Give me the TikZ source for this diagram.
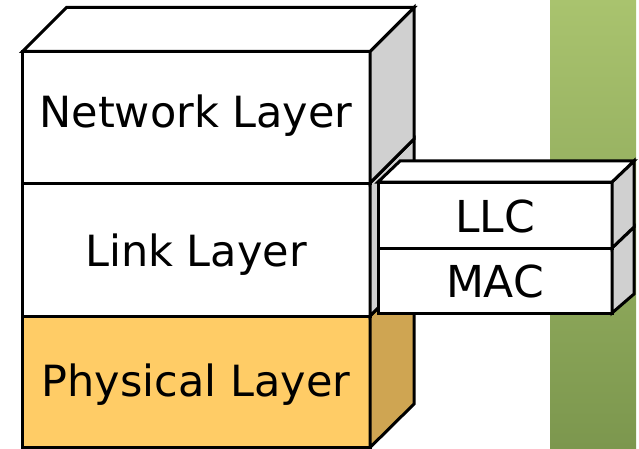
\documentclass[tikz,border=0pt]{standalone}
\usepackage{fontspec}
\setmainfont{DejaVu Sans}
\definecolor{physfront}{HTML}{FFCC66}
\definecolor{physside}{HTML}{CFA552}
\definecolor{greyside}{HTML}{D0D0D0}
\definecolor{greentop}{HTML}{A9C36E}
\definecolor{greenbot}{HTML}{7C974E}
\tikzset{
  face/.style={draw=black, line width=3pt, line join=miter, miter limit=4},
  frontw/.style={face, fill=white},
  sidegrey/.style={face, fill=greyside},
  lbl/.style={inner sep=0pt, anchor=base, font=\fontsize{43}{48}\selectfont},
  slbl/.style={inner sep=0pt, anchor=base, font=\fontsize{44}{48}\selectfont}
}
\begin{document}
\begin{tikzpicture}[x=1pt,y=-1pt]
\useasboundingbox (0,0) rectangle (639,449);
% green bar
\shade[top color=greentop, bottom color=greenbot] (550,0) rectangle (636,448);
% physical layer
\filldraw[face, fill=physfront] (22.5,316) rectangle (370,447.5);
\filldraw[face, fill=physside] (370,316) -- (414,272) -- (414,404) -- (370,447.5) -- cycle;
% link layer
\filldraw[frontw] (22.5,183) rectangle (370,316);
\filldraw[sidegrey] (370,183) -- (414,139) -- (414,272) -- (370,316) -- cycle;
% network layer
\filldraw[frontw] (22.5,51.5) rectangle (370,183);
\filldraw[sidegrey] (370,51.5) -- (414,7.5) -- (414,139) -- (370,183) -- cycle;
\filldraw[frontw] (22.5,51.5) -- (66.5,7.5) -- (414,7.5) -- (370,51.5) -- cycle;
% MAC
\filldraw[frontw] (378,248) rectangle (612,313);
\filldraw[sidegrey] (612,248) -- (634,227) -- (634,294) -- (612,313) -- cycle;
% LLC
\filldraw[frontw] (378,182) rectangle (612,248);
\filldraw[sidegrey] (612,182) -- (634,161) -- (634,227) -- (612,248) -- cycle;
\filldraw[frontw] (378,182) -- (400,161) -- (634,161) -- (612,182) -- cycle;
% labels
\node[lbl] (net) at (196,128) {Network Layer};
\node[lbl] (link) at (196,266.5) {Link Layer};
\node[lbl] (phys) at (196,396.5) {Physical Layer};
\node[slbl] (llc) at (495,232) {LLC};
\node[slbl] (mac) at (495,297) {MAC};
\end{tikzpicture}
\end{document}
